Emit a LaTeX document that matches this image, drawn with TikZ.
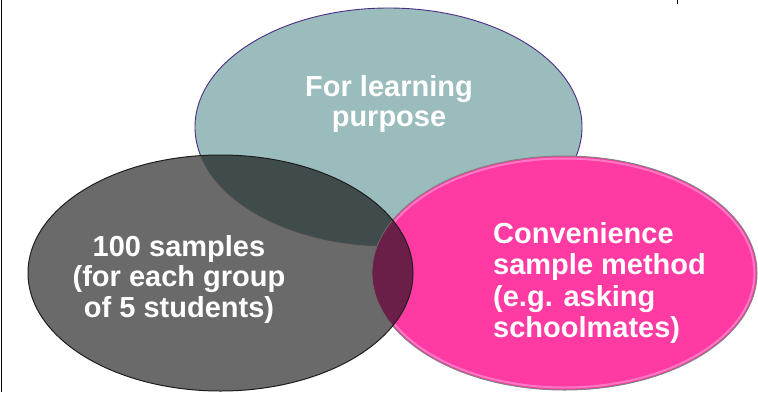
\documentclass[tikz,border=0pt]{standalone}
\usepackage{fontspec}
\setmainfont{Liberation Sans}
\begin{document}
\definecolor{tealfill}{RGB}{155,188,188}
\definecolor{tealedge}{RGB}{75,46,131}
\definecolor{pinkfill}{RGB}{255,58,162}
\definecolor{pinkglow}{RGB}{255,120,196}
\definecolor{pinkedge}{RGB}{130,130,130}
\definecolor{grayfill}{RGB}{106,106,106}
\definecolor{grayedge}{RGB}{30,30,30}
\definecolor{darkteal}{RGB}{64,76,76}
\definecolor{darkmagenta}{RGB}{107,30,72}
\begin{tikzpicture}[x=1pt,y=-1pt,
  label text/.style={text=white,font=\bfseries\fontsize{29}{30.5}\selectfont,inner sep=0pt},
  frame line/.style={draw=black,line width=0.9pt}]
\useasboundingbox (0,0) rectangle (758,392);
\fill[white] (0,0) rectangle (758,392);
% ellipse outlines shared by fills and strokes
\def\toppath{(388.5,127) ellipse [x radius=193.5, y radius=119]}
\def\leftpath{(220.5,273) ellipse [x radius=192.5, y radius=118]}
\def\rightpath{(564.5,273) ellipse [x radius=192.5, y radius=117]}
% frame remnants
\draw[frame line] (1.5,0) -- (1.5,392);
\draw[frame line] (677,0) -- (677,3.5);
% top circle
\fill[tealfill] \toppath;
\draw[tealedge,line width=0.9pt] \toppath;
% right circle
\fill[pinkfill] \rightpath;
\draw[pinkglow,line width=2pt] (564.5,273) ellipse [x radius=190, y radius=114.5];
\draw[pinkedge,line width=1pt] \rightpath;
% left circle, darkening whatever lies beneath it
\fill[grayfill] \leftpath;
\begin{scope}
  \clip \leftpath;
  \fill[darkteal] \toppath;
  \draw[black!70,line width=0.9pt] \toppath;
  \fill[darkmagenta] \rightpath;
  \draw[black!60,line width=0.9pt] \rightpath;
\end{scope}
\draw[grayedge,line width=1pt] \leftpath;
% labels
\node[label text,align=center] (learn) at (389,104) {For learning\\purpose};
\node[label text,align=center] (samples) at (179,279) {100 samples\\(for each group\\of 5 students)};
\node[label text,align=left,anchor=west,font=\bfseries\fontsize{29}{31.5}\selectfont] (method) at (493,283) {Convenience\\sample method\\(e.g. asking\\schoolmates)};
\end{tikzpicture}
\end{document}
